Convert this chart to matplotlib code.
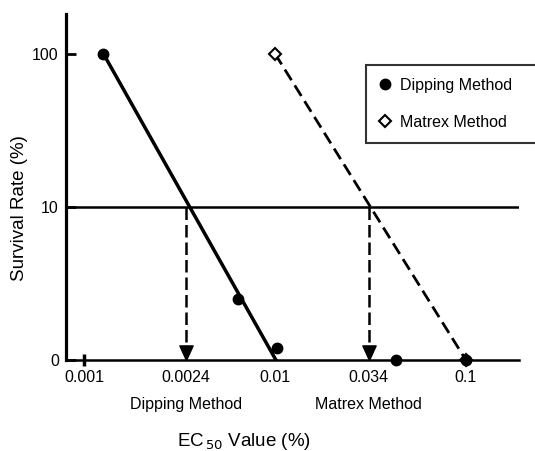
import numpy as np
import matplotlib.pyplot as plt
from matplotlib.ticker import NullLocator

plt.rcParams['font.family'] = ['Liberation Sans', 'DejaVu Sans']

# points (x: EC50 value %, y: survival rate %, "0" drawn at 1)
dip_x = [0.00126, 0.0064, 0.0102, 0.043, 0.1]
dip_y = [100, 2.5, 1.2, 1, 1]
mat_x = [0.01, 0.1]
mat_y = [100, 1]

# fitted lines
dip_fit_x = [0.00126, 0.0101]
dip_fit_y = [100, 1]
mat_fit_x = [0.01, 0.1]
mat_fit_y = [100, 1]

# estimated EC50 (where each line crosses 10 %)
ec50_x = [0.0034, 0.031]
ec50_names = ["Dipping Method", "Matrex Method"]

x_ticks = [0.001, 0.0034, 0.01, 0.031, 0.1]
x_tick_labels = ["0.001", "0.0024", "0.01", "0.034", "0.1"]
y_ticks = [1, 10, 100]
y_tick_labels = ["0", "10", "100"]

fig = plt.figure(figsize=(5.35, 4.51), dpi=100)
ax = fig.add_axes([0.123, 0.202, 0.847, 0.767])
ax.set_xscale("log")
ax.set_yscale("log")
ax.set_xlim(0.0008, 0.19)
ax.set_ylim(1, 182)

ax.spines["top"].set_visible(False)
ax.spines["right"].set_visible(False)
ax.spines["left"].set_linewidth(2.3)
ax.spines["bottom"].set_linewidth(1.8)

ax.plot(dip_fit_x, dip_fit_y, color="black", lw=2.5, zorder=3)
ax.plot(mat_fit_x, mat_fit_y, color="black", lw=2, ls=(0, (4.5, 2.2)), zorder=3)
ax.axhline(10, color="black", lw=1.8, zorder=2)

for x in ec50_x:
    ax.plot([x, x], [10, 1.2], color="black", lw=1.8, ls=(0, (5, 2)), zorder=3)
    ax.plot(x, 1, marker=[(0, 0), (-0.5, 1.1), (0.5, 1.1), (0, 0)], ms=21,
            color="black", clip_on=False, zorder=4)

ax.plot(mat_x, mat_y, ls="none", marker="D", ms=6, mfc="white", mec="black",
        mew=1.5, clip_on=False, zorder=5, label="Matrex Method")
ax.plot(dip_x, dip_y, ls="none", marker="o", ms=7.5, color="black",
        clip_on=False, zorder=6, label="Dipping Method")

ax.xaxis.set_minor_locator(NullLocator())
ax.yaxis.set_minor_locator(NullLocator())
ax.set_xticks(x_ticks)
ax.set_xticklabels(x_tick_labels, fontsize=11.5)
ax.set_yticks(y_ticks)
ax.set_yticklabels(y_tick_labels, fontsize=11.5)
ax.tick_params(axis="x", length=0, pad=7)
ax.tick_params(axis="y", direction="in", length=7, width=2, pad=5)
ax.plot(0.001, 1, marker="|", ms=9, mew=2.5, color="black", clip_on=False)

for x, name in zip(ec50_x, ec50_names):
    ax.annotate(name, xy=(x, 0), xycoords=("data", "axes fraction"),
                xytext=(0, -32), textcoords="offset points", ha="center",
                va="center", fontsize=11.5)

ax.set_ylabel("Survival Rate (%)", fontsize=13.5)
ax.yaxis.set_label_coords(-0.083, 0.44)
fig.text(0.456, 0.012, r"EC$_{\,50}$ Value (%)", ha="center", fontsize=13.5)

handles, labels = ax.get_legend_handles_labels()
leg = ax.legend(handles[::-1], labels[::-1], loc="upper left",
                bbox_to_anchor=(0.662, 0.627, 0.40, 0.226), mode="expand",
                borderaxespad=0, fontsize=11.5, frameon=True, fancybox=False,
                borderpad=0.8, labelspacing=1.4, handletextpad=0.6,
                handlelength=0.75)
leg.get_frame().set_edgecolor("black")
leg.get_frame().set_linewidth(1.5)

fig.savefig("out.png", dpi=100)
